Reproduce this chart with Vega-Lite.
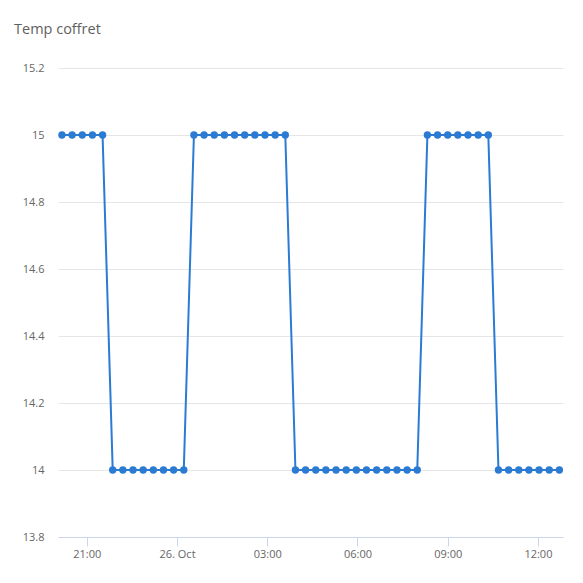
{
  "$schema": "https://vega.github.io/schema/vega-lite/v6.json",
  "width": 505,
  "height": 469,
  "autosize": {"type": "none"},
  "padding": {"left": 58, "top": 68, "right": 20, "bottom": 46},
  "background": "#ffffff",
  "title": {
    "text": "Temp coffret",
    "anchor": "start",
    "frame": "group",
    "dx": -44,
    "offset": 14,
    "baseline": "alphabetic",
    "font": "Open Sans",
    "fontSize": 14.5,
    "fontWeight": "normal",
    "color": "#5f5f5f"
  },
  "config": {
    "view": {"stroke": null},
    "axis": {"labelFont": "Open Sans", "labelFontSize": 11, "labelColor": "#666666"}
  },
  "data": {
    "values": [
      {"time": "2017-10-25T20:10:30Z", "temp": 15},
      {"time": "2017-10-25T20:30:45Z", "temp": 15},
      {"time": "2017-10-25T20:51:00Z", "temp": 15},
      {"time": "2017-10-25T21:11:15Z", "temp": 15},
      {"time": "2017-10-25T21:31:30Z", "temp": 15},
      {"time": "2017-10-25T21:51:45Z", "temp": 14},
      {"time": "2017-10-25T22:12:00Z", "temp": 14},
      {"time": "2017-10-25T22:32:15Z", "temp": 14},
      {"time": "2017-10-25T22:52:30Z", "temp": 14},
      {"time": "2017-10-25T23:12:45Z", "temp": 14},
      {"time": "2017-10-25T23:33:00Z", "temp": 14},
      {"time": "2017-10-25T23:53:15Z", "temp": 14},
      {"time": "2017-10-26T00:13:30Z", "temp": 14},
      {"time": "2017-10-26T00:33:45Z", "temp": 15},
      {"time": "2017-10-26T00:54:00Z", "temp": 15},
      {"time": "2017-10-26T01:14:15Z", "temp": 15},
      {"time": "2017-10-26T01:34:30Z", "temp": 15},
      {"time": "2017-10-26T01:54:45Z", "temp": 15},
      {"time": "2017-10-26T02:15:00Z", "temp": 15},
      {"time": "2017-10-26T02:35:15Z", "temp": 15},
      {"time": "2017-10-26T02:55:30Z", "temp": 15},
      {"time": "2017-10-26T03:15:45Z", "temp": 15},
      {"time": "2017-10-26T03:36:00Z", "temp": 15},
      {"time": "2017-10-26T03:56:15Z", "temp": 14},
      {"time": "2017-10-26T04:16:30Z", "temp": 14},
      {"time": "2017-10-26T04:36:45Z", "temp": 14},
      {"time": "2017-10-26T04:57:00Z", "temp": 14},
      {"time": "2017-10-26T05:17:15Z", "temp": 14},
      {"time": "2017-10-26T05:37:30Z", "temp": 14},
      {"time": "2017-10-26T05:57:45Z", "temp": 14},
      {"time": "2017-10-26T06:18:00Z", "temp": 14},
      {"time": "2017-10-26T06:38:15Z", "temp": 14},
      {"time": "2017-10-26T06:58:30Z", "temp": 14},
      {"time": "2017-10-26T07:18:45Z", "temp": 14},
      {"time": "2017-10-26T07:39:00Z", "temp": 14},
      {"time": "2017-10-26T07:59:15Z", "temp": 14},
      {"time": "2017-10-26T08:19:30Z", "temp": 15},
      {"time": "2017-10-26T08:39:45Z", "temp": 15},
      {"time": "2017-10-26T09:00:00Z", "temp": 15},
      {"time": "2017-10-26T09:20:15Z", "temp": 15},
      {"time": "2017-10-26T09:40:30Z", "temp": 15},
      {"time": "2017-10-26T10:00:45Z", "temp": 15},
      {"time": "2017-10-26T10:21:00Z", "temp": 15},
      {"time": "2017-10-26T10:41:15Z", "temp": 14},
      {"time": "2017-10-26T11:01:30Z", "temp": 14},
      {"time": "2017-10-26T11:21:45Z", "temp": 14},
      {"time": "2017-10-26T11:42:00Z", "temp": 14},
      {"time": "2017-10-26T12:02:15Z", "temp": 14},
      {"time": "2017-10-26T12:22:30Z", "temp": 14},
      {"time": "2017-10-26T12:42:45Z", "temp": 14}
    ]
  },
  "mark": {
    "type": "line",
    "color": "#2b7bd3",
    "strokeWidth": 2,
    "point": {"filled": true, "size": 55, "color": "#2b7bd3", "opacity": 1}
  },
  "encoding": {
    "x": {
      "field": "time",
      "type": "temporal",
      "scale": {
        "type": "utc",
        "domain": [
          {"year": 2017, "month": 10, "date": 25, "hours": 20, "minutes": 2, "seconds": 36, "utc": true},
          {"year": 2017, "month": 10, "date": 26, "hours": 12, "minutes": 50, "seconds": 0, "utc": true}
        ]
      },
      "axis": {
        "title": null,
        "grid": false,
        "values": [
          {"year": 2017, "month": 10, "date": 25, "hours": 21, "utc": true},
          {"year": 2017, "month": 10, "date": 26, "hours": 0, "utc": true},
          {"year": 2017, "month": 10, "date": 26, "hours": 3, "utc": true},
          {"year": 2017, "month": 10, "date": 26, "hours": 6, "utc": true},
          {"year": 2017, "month": 10, "date": 26, "hours": 9, "utc": true},
          {"year": 2017, "month": 10, "date": 26, "hours": 12, "utc": true}
        ],
        "labelExpr": "utchours(datum.value) == 0 ? utcFormat(datum.value, '%d. %b') : utcFormat(datum.value, '%H:%M')",
        "domainColor": "#ccd6eb",
        "tickColor": "#ccd6eb",
        "tickSize": 9,
        "labelPadding": 2,
        "labelFlush": false
      }
    },
    "y": {
      "field": "temp",
      "type": "quantitative",
      "scale": {"domain": [13.8, 15.2], "nice": false, "zero": false},
      "axis": {
        "title": null,
        "values": [13.8, 14, 14.2, 14.4, 14.6, 14.8, 15, 15.2],
        "format": ".3~g",
        "domain": false,
        "ticks": false,
        "gridColor": "#e6e6e6",
        "labelPadding": 14
      }
    }
  }
}
